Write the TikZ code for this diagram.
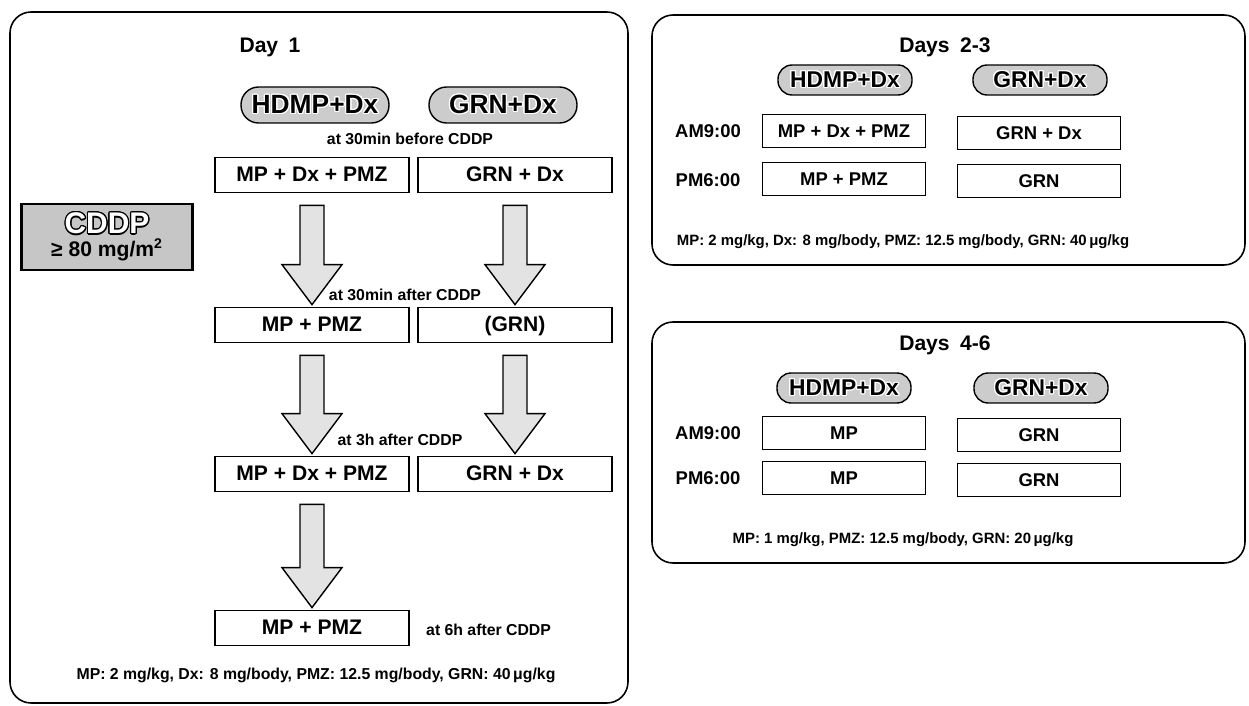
\documentclass[tikz,border=0pt]{standalone}
\usepackage{fontspec}
\setmainfont{Liberation Sans}
\usepackage{contour}
\contourlength{0.7pt}
\usetikzlibrary{calc,positioning}

% block arrow from the bottom of one box to the top of the next
\newcommand{\bigarrow}[2]{%
  \draw[blockarr] ($(#1.south)+(-12,12)$) -- ($(#2.north)+(-12,-42)$)
    -- ($(#2.north)+(-30,-42)$) -- ($(#2.north)+(0,-2)$) -- ($(#2.north)+(30,-42)$)
    -- ($(#2.north)+(12,-42)$) -- ($(#1.south)+(12,12)$) -- cycle;}

\begin{document}
\begin{tikzpicture}[x=0.02cm, y=-0.02cm,
  panel/.style={draw, line width=0.9pt, rounded corners=12pt},
  box/.style={draw, line width=1pt, minimum width=3.88cm, minimum height=0.7cm,
              text height=1.75ex, text depth=0.3ex,
              font=\bfseries\fontsize{12}{14}\selectfont},
  sbox/.style={draw, line width=1pt, minimum width=3.26cm, minimum height=0.66cm,
               text height=1.75ex, text depth=0.3ex,
               font=\bfseries\fontsize{10.5}{12}\selectfont},
  pill/.style={draw, thick, fill=gray!40, rounded corners=10pt, inner sep=1pt,
               minimum width=2.96cm, minimum height=0.72cm,
               font=\bfseries\fontsize{15}{17}\selectfont},
  spill/.style={pill, rounded corners=8pt, minimum width=2.68cm, minimum height=0.6cm,
                font=\bfseries\fontsize{13}{15}\selectfont},
  lbl/.style={font=\bfseries\fontsize{9}{11}\selectfont},
  tlbl/.style={font=\bfseries\fontsize{10.5}{12}\selectfont},
  note/.style={font=\bfseries\fontsize{9}{11}\selectfont},
  snote/.style={font=\bfseries\fontsize{8.5}{10}\selectfont},
  ttl/.style={font=\bfseries\fontsize{12}{14}\selectfont},
  blockarr/.style={draw, thick, fill=gray!22, line join=miter}
]
\useasboundingbox (0,0) rectangle (1249,706);

% Day 1
\draw[panel] (10,12) rectangle (628,703);
\node[ttl] (d1) at (270,47) {Day\enspace 1};
\node[pill] (hd1) at (315,105) {\contour{white}{HDMP+Dx}};
\node[pill] (gd1) at (503,105) {\contour{white}{GRN+Dx}};
\node[lbl] (t0) at (410,139) {at 30min before CDDP};

\node[box] (a1) at (312,175) {MP + Dx + PMZ};
\node[box] (b1) at (515,175) {GRN + Dx};
\node[box] (a2) at (312,325) {MP + PMZ};
\node[box] (b2) at (515,325) {(GRN)};
\node[box] (a3) at (312,474) {MP + Dx + PMZ};
\node[box] (b3) at (515,474) {GRN + Dx};
\node[box] (a4) at (312,628) {MP + PMZ};

\node[lbl] (t1) at (405,295) {at 30min after CDDP};
\node[lbl] (t2) at (400,440) {at 3h after CDDP};
\node[lbl, anchor=west] (t3) at (420,630) {at 6h after CDDP};

\bigarrow{a1}{a2}
\bigarrow{b1}{b2}
\bigarrow{a2}{a3}
\bigarrow{b2}{b3}
\bigarrow{a3}{a4}

\node[note] (n1) at (316,675) {MP: 2 mg/kg, Dx: 8 mg/body, PMZ: 12.5 mg/body, GRN: 40\,μg/kg};

\node[draw, line width=1.4pt, fill=gray!45, minimum width=3.42cm, minimum height=1.32cm,
      align=center, inner sep=1pt] (cddp) at (107,237)
  {{\bfseries\fontsize{17}{18}\selectfont\contour{black}{\textcolor{white}{CDDP}}}\\[1pt]
   {\bfseries\fontsize{12}{13}\selectfont ≥ 80 mg/m\textsuperscript{2}}};

% Days 2-3
\draw[panel] (652,15) rectangle (1245,265);
\node[ttl] (d23) at (945,47) {Days\enspace 2-3};
\node[spill] (hd2) at (845,80) {\contour{white}{HDMP+Dx}};
\node[spill] (gd2) at (1040,80) {\contour{white}{GRN+Dx}};
\node[tlbl] (am2) at (708,131) {AM9:00};
\node[tlbl] (pm2) at (708,180) {PM6:00};
\node[sbox] (c1) at (844,131) {MP + Dx + PMZ};
\node[sbox] (e1) at (1039,133) {GRN + Dx};
\node[sbox] (c2) at (844,179) {MP + PMZ};
\node[sbox] (e2) at (1039,181) {GRN};
\node[snote] (n2) at (903,242)
  {MP: 2 mg/kg, Dx: 8 mg/body, PMZ: 12.5 mg/body, GRN: 40\,μg/kg};

% Days 4-6
\draw[panel] (652,322) rectangle (1245,563);
\node[ttl] (d46) at (945,345) {Days\enspace 4-6};
\node[spill] (hd3) at (844,388) {\contour{white}{HDMP+Dx}};
\node[spill] (gd3) at (1041,388) {\contour{white}{GRN+Dx}};
\node[tlbl] (am3) at (708,433) {AM9:00};
\node[tlbl] (pm3) at (708,478) {PM6:00};
\node[sbox] (f1) at (844,433) {MP};
\node[sbox] (g1) at (1039,435) {GRN};
\node[sbox] (f2) at (844,478) {MP};
\node[sbox] (g2) at (1039,480) {GRN};
\node[snote] (n3) at (903,540)
  {MP: 1 mg/kg, PMZ: 12.5 mg/body, GRN: 20\,μg/kg};
\end{tikzpicture}
\end{document}
